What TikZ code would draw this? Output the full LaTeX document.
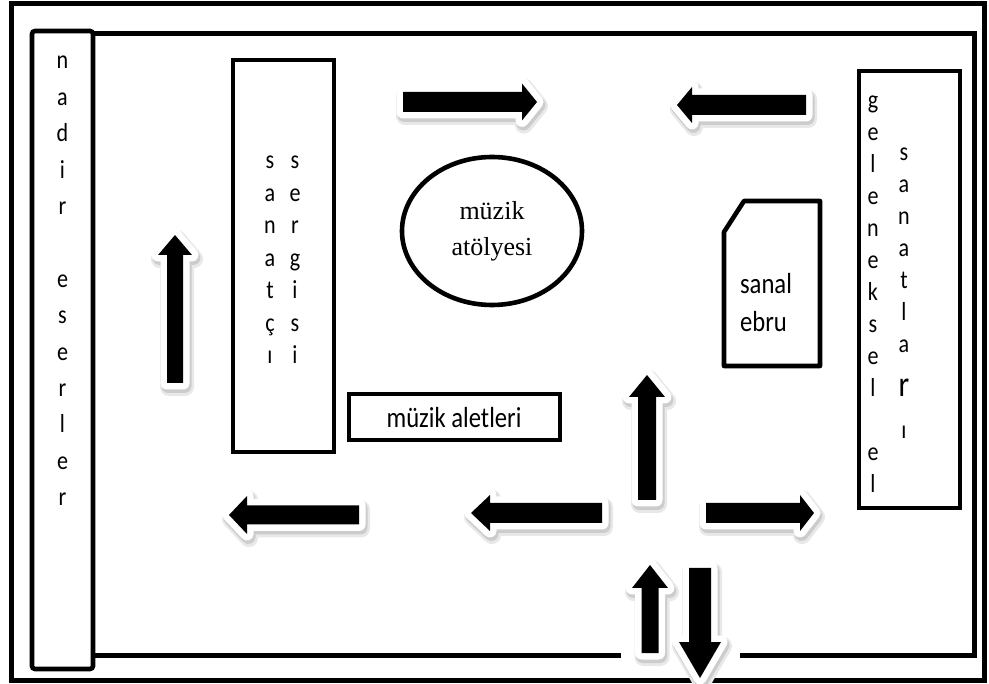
\documentclass[tikz,border=0pt]{standalone}
\usepackage{fontspec}
\setmainfont{Carlito}[FakeStretch=0.85]
\newfontfamily\timesf{Liberation Serif}
\usetikzlibrary{shapes.geometric}
\tikzset{
  frameline/.style={line width=5pt, draw=black},
  roombox/.style={draw=black, line width=4.6pt, inner sep=0pt, fill=white},
  vletter/.style={anchor=base, inner sep=0pt, font=\fontsize{26}{26}\selectfont},
  labeltext/.style={inner sep=0pt, font=\fontsize{29}{38}\selectfont},
  shadA/.style={draw=black!9, fill=black!9, line width=18pt, line join=round, shift={(2,4)}},
  shadB/.style={draw=black!20, fill=black!20, line width=14pt, line join=round, shift={(1.5,3)}},
  whiteout/.style={draw=white, fill=white, line width=13pt, line join=round},
  blackarr/.style={fill=black}
}
% horizontal block arrow: tail x, head-base x, tip x, centre y, shaft half, head half
\newcommand{\harr}[6]{%
  \path[shadA] ({#1},{#4-#5}) -- ({#2},{#4-#5}) -- ({#2},{#4-#6}) -- ({#3},{#4}) -- ({#2},{#4+#6}) -- ({#2},{#4+#5}) -- ({#1},{#4+#5}) -- cycle;
  \path[shadB] ({#1},{#4-#5}) -- ({#2},{#4-#5}) -- ({#2},{#4-#6}) -- ({#3},{#4}) -- ({#2},{#4+#6}) -- ({#2},{#4+#5}) -- ({#1},{#4+#5}) -- cycle;
  \path[whiteout] ({#1},{#4-#5}) -- ({#2},{#4-#5}) -- ({#2},{#4-#6}) -- ({#3},{#4}) -- ({#2},{#4+#6}) -- ({#2},{#4+#5}) -- ({#1},{#4+#5}) -- cycle;
  \path[blackarr] ({#1},{#4-#5}) -- ({#2},{#4-#5}) -- ({#2},{#4-#6}) -- ({#3},{#4}) -- ({#2},{#4+#6}) -- ({#2},{#4+#5}) -- ({#1},{#4+#5}) -- cycle;
}
% vertical block arrow: centre x, tail y, head-base y, tip y, shaft half, head half
\newcommand{\varr}[6]{%
  \path[shadA] ({#1-#5},{#2}) -- ({#1-#5},{#3}) -- ({#1-#6},{#3}) -- ({#1},{#4}) -- ({#1+#6},{#3}) -- ({#1+#5},{#3}) -- ({#1+#5},{#2}) -- cycle;
  \path[shadB] ({#1-#5},{#2}) -- ({#1-#5},{#3}) -- ({#1-#6},{#3}) -- ({#1},{#4}) -- ({#1+#6},{#3}) -- ({#1+#5},{#3}) -- ({#1+#5},{#2}) -- cycle;
  \path[whiteout] ({#1-#5},{#2}) -- ({#1-#5},{#3}) -- ({#1-#6},{#3}) -- ({#1},{#4}) -- ({#1+#6},{#3}) -- ({#1+#5},{#3}) -- ({#1+#5},{#2}) -- cycle;
  \path[blackarr] ({#1-#5},{#2}) -- ({#1-#5},{#3}) -- ({#1-#6},{#3}) -- ({#1},{#4}) -- ({#1+#6},{#3}) -- ({#1+#5},{#3}) -- ({#1+#5},{#2}) -- cycle;
}
\begin{document}
\begin{tikzpicture}[x=1pt,y=-1pt]
\useasboundingbox (0,0) rectangle (989,684);
\fill[white] (0,0) rectangle (989,684);

% outer frame
\draw[frameline] (11,4) rectangle (984,680);
% inner frame
\draw[frameline] (93,34) -- (974,34) -- (974,655) -- (740,655);
\draw[frameline] (621,655) -- (93,655);

% nadir eserler
\node[roombox, rounded corners=3pt, minimum width=61pt, minimum height=638pt] (nadir) at (62.5,350) {};
\foreach \c [count=\i from 0] in {n,a,d,i,r,{},e,s,e,r,l,e,r}
  \node[vletter] (nad\i) at (62.5,{69+\i*36.4}) {\c};

% sanatci sergisi
\node[roombox, minimum width=101pt, minimum height=392pt] (sanatci) at (283.5,256) {};
\foreach \c [count=\i from 0] in {s,a,n,a,t,ç,ı}
  \node[vletter] (sa\i) at (270,{169+\i*32.5}) {\c};
\foreach \c [count=\i from 0] in {s,e,r,g,i,s,i}
  \node[vletter] (se\i) at (295,{169+\i*32.5}) {\c};

% muzik atolyesi
\node[draw=black, line width=4.6pt, ellipse, minimum width=180pt, minimum height=148pt, inner sep=0pt, align=center, font=\timesf\fontsize{26}{36}\selectfont] (atolye) at (492,231) {müzik\\atölyesi};

% muzik aletleri
\node[roombox, minimum width=211pt, minimum height=46pt] (aletler) at (454.5,417) {};
\node[anchor=base, inner sep=0pt, font=\fontsize{29}{29}\selectfont] (aletlertxt) at (454,428) {müzik aletleri};

% sanal ebru
\draw[line width=4.6pt, line join=round] (744,201) -- (820,201) -- (820,366) -- (724,366) -- (724,232) -- cycle;
\node[labeltext, align=left] (ebru) at (766,303) {sanal\\ebru};

% geleneksel el sanatlari
\node[roombox, minimum width=101pt, minimum height=437pt] (gelenek) at (909.5,289.5) {};
\foreach \c [count=\i from 0] in {g,e,l,e,n,e,k,s,e,l,{},e,l}
  \node[vletter] (ge\i) at (873,{109+\i*32}) {\c};
\foreach \c/\yy [count=\i from 0] in {s/161,a/193,n/225,a/257,t/289,l/321,a/353,ı/439}
  \node[vletter] (sn\i) at (904,\yy) {\c};
\node[anchor=base, inner sep=0pt, font=\fontsize{36}{36}\selectfont] (snr) at (904,397) {r};

% block arrows
\harr{403}{522}{537}{102}{10}{18.5}
\harr{806}{692}{677}{105}{10}{18}
\varr{175}{383}{255}{235}{8}{17}
\harr{359}{247}{229}{515}{9.5}{19}
\harr{602}{490}{471}{513}{10}{18}
\varr{647}{500}{397}{375}{9}{18}
\harr{706}{800}{814}{513}{10}{18}
\varr{650}{653}{588}{565}{8.5}{18}
\varr{700}{568}{642}{678}{11}{21}
\end{tikzpicture}
\end{document}
